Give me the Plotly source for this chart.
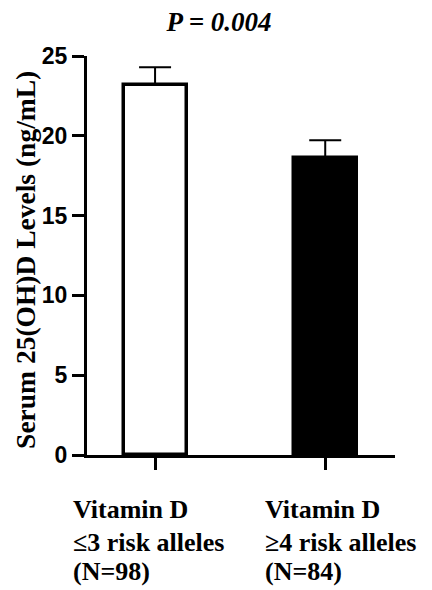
import plotly.graph_objects as go

categories = ["≤3", "≥4"]
label_lines = [
    ["Vitamin D", "≤3 risk alleles", "(N=98)"],
    ["Vitamin D", "≥4 risk alleles", "(N=84)"],
]
means = [23.2, 18.6]
sem = [1.1, 1.12]
bar_fill = ["white", "black"]
y_ticks = [0, 5, 10, 15, 20, 25]
title_text = "P = 0.004"
y_title = "Serum 25(OH)D Levels (ng/mL)"

SERIF = "Liberation Serif"
SANS = "Liberation Sans"

# page body has an 8px default margin; compensate
OFF = 8
W, H = 432 - OFF, 590 - OFF

fig = go.Figure()
fig.add_trace(go.Bar(
    x=categories, y=means,
    width=0.37,
    marker=dict(color=bar_fill, line=dict(color="black", width=3.5)),
    error_y=dict(type="data", symmetric=False, array=sem,
                 arrayminus=[0] * len(sem), color="black",
                 thickness=2, width=16),
    showlegend=False,
))

line_shifts = [-54, -87, -116]
for i, lines in enumerate(label_lines):
    for j, line in enumerate(lines):
        fig.add_annotation(
            x=categories[i], xref="x", y=0, yref="paper",
            xanchor="left", yanchor="middle", align="left",
            xshift=[-84, -62][i], yshift=line_shifts[j],
            text=line, showarrow=False,
            font=dict(family=SERIF, size=26, color="black", weight="bold"),
        )

fig.add_annotation(
    x=-0.2, xref="paper", y=0.49, yref="paper",
    xanchor="center", yanchor="middle", textangle=-90,
    text=y_title, showarrow=False,
    font=dict(family=SERIF, size=27.5, color="black", weight="bold"),
)

fig.update_layout(
    width=W, height=H,
    margin=dict(l=87 - OFF, r=37, t=56 - OFF, b=135),
    paper_bgcolor="white", plot_bgcolor="white",
    title=dict(text=f"<i>{title_text}</i>", x=(219 - OFF) / W, xanchor="center",
               y=1 - (22 - OFF) / H, yanchor="middle", xref="container",
               font=dict(family=SERIF, size=27, color="black", weight="bold")),
    bargap=0,
)
fig.update_xaxes(
    range=[-0.4, 1.41], showline=True, linecolor="black", linewidth=3,
    ticks="outside", ticklen=12, tickwidth=3, tickcolor="black",
    showticklabels=False, showgrid=False, zeroline=False,
)
fig.update_yaxes(
    range=[0, 25], tickvals=y_ticks, showline=True, linecolor="black",
    linewidth=3, ticks="outside", ticklen=12, tickwidth=3, tickcolor="black",
    showgrid=False, zeroline=False,
    tickfont=dict(family=SANS, size=23, color="black", weight="bold"),
)

fig.write_html("out.html")
